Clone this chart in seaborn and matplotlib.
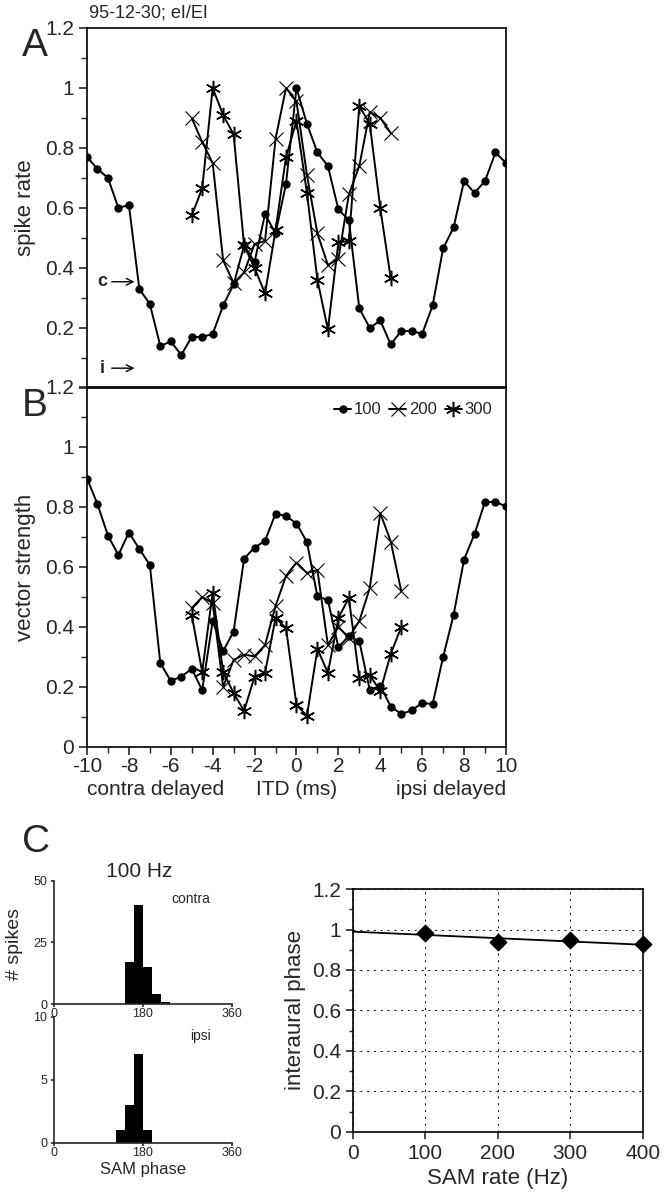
import numpy as np
import pandas as pd
import matplotlib
matplotlib.use('Agg')
import matplotlib.pyplot as plt
from matplotlib.ticker import MultipleLocator, FuncFormatter
import seaborn as sns

# ITD grid (ms)
itd_full = [-10, -9.5, -9, -8.5, -8, -7.5, -7, -6.5, -6, -5.5, -5, -4.5, -4, -3.5, -3,
            -2.5, -2, -1.5, -1, -0.5, 0, 0.5, 1, 1.5, 2, 2.5, 3, 3.5, 4, 4.5, 5,
            5.5, 6, 6.5, 7, 7.5, 8, 8.5, 9, 9.5, 10]
itd_mid = [-5, -4.5, -4, -3.5, -3, -2.5, -2, -1.5, -1, -0.5, 0,
           0.5, 1, 1.5, 2, 2.5, 3, 3.5, 4, 4.5, 5]
itd_mid_a = itd_mid[:-1]  # panel A 200/300 Hz stop at 4.5

# Panel A: spike rate
rate_100 = [0.77, 0.73, 0.70, 0.60, 0.61, 0.33, 0.28, 0.14, 0.155, 0.11, 0.17,
            0.17, 0.18, 0.275, 0.345, 0.475, 0.42, 0.58, 0.515, 0.68, 1.0,
            0.88, 0.785, 0.74, 0.595, 0.56, 0.265, 0.20, 0.225, 0.145, 0.19,
            0.19, 0.18, 0.275, 0.465, 0.535, 0.69, 0.65, 0.69, 0.785, 0.75]
rate_200 = [0.90, 0.82, 0.75, 0.425, 0.35, 0.385, 0.48, 0.49, 0.83, 1.0,
            0.955, 0.71, 0.515, 0.41, 0.43, 0.645, 0.74, 0.92, 0.90, 0.85]
rate_300 = [0.575, 0.665, 1.0, 0.91, 0.845, 0.475, 0.40, 0.315, 0.525, 0.77,
            0.89, 0.65, 0.36, 0.195, 0.485, 0.49, 0.94, 0.88, 0.60, 0.365]

# Panel B: vector strength
vs_100 = [0.895, 0.81, 0.705, 0.64, 0.715, 0.66, 0.607, 0.28, 0.22, 0.235, 0.26,
          0.19, 0.42, 0.32, 0.385, 0.628, 0.665, 0.687, 0.778, 0.77, 0.745,
          0.683, 0.502, 0.49, 0.333, 0.37, 0.352, 0.19, 0.204, 0.135, 0.11,
          0.122, 0.147, 0.143, 0.30, 0.44, 0.625, 0.71, 0.817, 0.817, 0.802]
vs_200 = [0.463, 0.50, 0.48, 0.20, 0.29, 0.308, 0.302, 0.34, 0.47, 0.57, 0.615,
          0.58, 0.59, 0.34, 0.40, 0.365, 0.42, 0.53, 0.78, 0.685, 0.52]
vs_300 = [0.44, 0.25, 0.515, 0.25, 0.18, 0.12, 0.235, 0.247, 0.43, 0.397, 0.14,
          0.104, 0.327, 0.247, 0.43, 0.497, 0.23, 0.24, 0.186, 0.31, 0.40]

# Panel C: phase histograms (18 deg bins) at 100 Hz
contra_centers = [153, 171, 189, 207, 225]
contra_counts = [17, 40, 15, 4, 1]
ipsi_centers = [135, 153, 171, 189]
ipsi_counts = [1, 3, 7, 1]

# Panel C: interaural phase vs SAM rate
sam_rate = [100, 200, 300, 400]
ia_phase = [0.985, 0.937, 0.946, 0.928]

sns.set_theme(style="ticks")
plt.rcParams['font.family'] = ['Liberation Sans', 'DejaVu Sans']
plt.rcParams['axes.linewidth'] = 1.2
plt.rcParams['axes.facecolor'] = 'none'
plt.rcParams['xtick.major.width'] = 1.2
plt.rcParams['ytick.major.width'] = 1.2
plt.rcParams['xtick.minor.width'] = 1.0
plt.rcParams['ytick.minor.width'] = 1.0

fig = plt.figure(figsize=(6.66, 12), dpi=100)

styles = {
    '100': dict(marker='o', markersize=5, markeredgewidth=1, markerfacecolor='black'),
    '200': dict(marker='x', markersize=10, markeredgewidth=0.8),
    '300': dict(marker=(6, 2, 0), markersize=11, markeredgewidth=1.1),
}


def draw(ax, x, y, key, label=None):
    sns.lineplot(x=x, y=y, ax=ax, color='black', lw=1.4, markeredgecolor='black',
                 label=label, legend=False, **styles[key])


fmt = FuncFormatter(lambda v, p: f"{v:g}")


def itd_axis(ax, hide_zero):
    ax.set_xlim(-10, 10)
    ax.set_ylim(0, 1.2)
    ax.yaxis.set_major_locator(MultipleLocator(0.2))
    ax.yaxis.set_minor_locator(MultipleLocator(0.1))
    if hide_zero:
        ax.yaxis.set_major_formatter(FuncFormatter(lambda v, p: "" if abs(v) < 1e-9 else f"{v:g}"))
    else:
        ax.yaxis.set_major_formatter(fmt)
    ax.tick_params(axis='y', which='major', direction='out', length=6, labelsize=15)
    ax.tick_params(axis='y', which='minor', direction='out', length=4)
    for s in ax.spines.values():
        s.set_visible(True)
        s.set_linewidth(1.2)
        s.set_color('black')


# ---------- Panel A ----------
axA = fig.add_axes([0.1306, 0.6767, 0.6291, 0.30])
draw(axA, itd_full, rate_100, '100')
draw(axA, itd_mid_a, rate_200, '200')
draw(axA, itd_mid_a, rate_300, '300')
itd_axis(axA, hide_zero=True)
axA.tick_params(axis='x', which='both', bottom=False, labelbottom=False)
axA.set_xlabel("")
axA.set_ylabel("spike rate", fontsize=16, labelpad=6)

for lab, yv in [("c", 0.354), ("i", 0.066)]:
    axA.text(-9.25, yv, lab, fontsize=13, fontweight='bold', ha='center', va='center')
    axA.annotate("", xy=(-7.6, yv), xytext=(-8.95, yv),
                 arrowprops=dict(arrowstyle='->', lw=1.0, color='black'))

fig.text(0.133, 0.982, "95-12-30; eI/EI", fontsize=13, ha='left', va='bottom')
fig.text(0.033, 0.962, "A", fontsize=28, ha='left', va='center')

# ---------- Panel B ----------
axB = fig.add_axes([0.1306, 0.3775, 0.6291, 0.30])
draw(axB, itd_full, vs_100, '100', '100')
draw(axB, itd_mid, vs_200, '200', '200')
draw(axB, itd_mid, vs_300, '300', '300')
itd_axis(axB, hide_zero=False)
axB.xaxis.set_major_locator(MultipleLocator(2))
axB.xaxis.set_minor_locator(MultipleLocator(1))
axB.xaxis.set_major_formatter(fmt)
axB.tick_params(axis='x', which='major', direction='out', length=6, labelsize=15, pad=1)
axB.tick_params(axis='x', which='minor', direction='out', length=4)
axB.set_xlabel("")
axB.set_ylabel("vector strength", fontsize=16, labelpad=6)
handles, labels = axB.get_legend_handles_labels()
axB.legend(handles, labels, loc='upper right', ncol=3, frameon=False, fontsize=12,
           handlelength=1.0, handletextpad=0.15, columnspacing=0.5,
           borderaxespad=0.2, bbox_to_anchor=(0.99, 0.985))
axB.text(0.0, -0.118, "contra delayed", transform=axB.transAxes, fontsize=15, ha='left', va='center')
axB.text(0.5, -0.118, "ITD (ms)", transform=axB.transAxes, fontsize=15, ha='center', va='center')
axB.text(1.0, -0.118, "ipsi delayed", transform=axB.transAxes, fontsize=15, ha='right', va='center')
fig.text(0.033, 0.662, "B", fontsize=28, ha='left', va='center')

# ---------- Panel C: histograms ----------
fig.text(0.033, 0.298, "C", fontsize=28, ha='left', va='center')

axH1 = fig.add_axes([0.081, 0.1633, 0.267, 0.1027])
axH2 = fig.add_axes([0.081, 0.0478, 0.267, 0.1050])
edges = list(range(0, 361, 18))
for ax, cen, cnt, top, mid, tag in [(axH1, contra_centers, contra_counts, 50, 25, "contra"),
                                     (axH2, ipsi_centers, ipsi_counts, 10, 5, "ipsi")]:
    hist_df = pd.DataFrame({"phase": cen, "count": cnt})
    sns.histplot(data=hist_df, x="phase", weights="count", bins=edges, ax=ax,
                 color='black', edgecolor='black', linewidth=0, alpha=1)
    ax.set_xlim(0, 360)
    ax.set_ylim(0, top)
    ax.set_xticks([0, 180, 360])
    ax.set_yticks([0, mid, top])
    ax.tick_params(axis='x', labelsize=9, length=2, pad=1)
    ax.tick_params(axis='y', labelsize=9, length=2, pad=3)
    ax.spines['top'].set_visible(False)
    ax.spines['right'].set_visible(False)
    ax.set_xlabel("")
    ax.set_ylabel("")
    ax.text(0.88, 0.85, tag, transform=ax.transAxes, fontsize=10, ha='right', va='center',
            family=['Liberation Sans Narrow', 'Liberation Sans', 'DejaVu Sans'])
axH1.set_title("100 Hz", fontsize=15, pad=2, x=0.48)
axH2.set_xlabel("SAM phase", fontsize=12, labelpad=2)
fig.text(0.022, 0.213, "# spikes", fontsize=14, rotation=90, ha='center', va='center')

# ---------- Panel C: interaural phase ----------
axR = fig.add_axes([0.530, 0.0569, 0.435, 0.2022])
axR.set_xlim(0, 400)
axR.set_ylim(0, 1.2)
sns.regplot(x=sam_rate, y=ia_phase, ax=axR, ci=None, truncate=False, marker='D',
            color='black', scatter_kws=dict(s=70, alpha=1, clip_on=False, zorder=4),
            line_kws=dict(lw=1.3))
axR.set_xlim(0, 400)
axR.set_ylim(0, 1.2)
axR.xaxis.set_major_locator(MultipleLocator(100))
axR.yaxis.set_major_locator(MultipleLocator(0.2))
axR.yaxis.set_minor_locator(MultipleLocator(0.1))
axR.yaxis.set_major_formatter(fmt)
axR.grid(True, which='major', color='black', lw=0.7, ls=(0, (2, 5)))
axR.tick_params(axis='both', which='major', direction='out', length=5, labelsize=15)
axR.tick_params(axis='y', which='minor', direction='out', length=3)
for s in axR.spines.values():
    s.set_visible(True)
    s.set_linewidth(1.2)
    s.set_color('black')
axR.set_xlabel("SAM rate (Hz)", fontsize=16)
axR.set_ylabel("interaural phase", fontsize=16)

fig.savefig("out.png", dpi=100)
